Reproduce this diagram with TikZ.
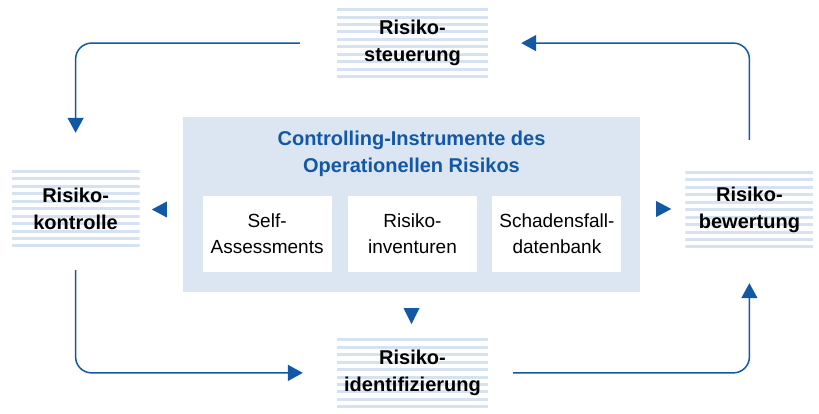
\documentclass[tikz,border=0pt]{standalone}
\usepackage{fontspec}
\setmainfont{Liberation Sans}
\usetikzlibrary{positioning, arrows.meta, calc}
\definecolor{flowblue}{RGB}{18,88,164}
\definecolor{stripeblue}{RGB}{214,225,242}
\definecolor{panelblue}{RGB}{220,230,243}
\tikzset{
flow/.style={draw=flowblue, line width=1.5pt, rounded corners=16pt, -{Triangle[width=16pt,length=15pt]}}, % the four round arrows
stripebox/.style={fill=white, inner sep=0pt, align=center, minimum width=#1, font=\fontsize{20}{27}\selectfont\bfseries,
  path picture={\foreach \k in {0,...,10}
    \fill[stripeblue] ([yshift=-\k*7.44pt]path picture bounding box.north west) rectangle ([yshift=-\k*7.44pt-3pt]path picture bounding box.north east);}}, % light stripes behind the text
panel/.style={fill=panelblue, minimum width=457pt, minimum height=175pt}, % the big box in the middle
headtext/.style={align=center, text=flowblue, font=\fontsize{20}{27}\selectfont\bfseries},
toolbox/.style={fill=white, align=center, minimum width=129pt, minimum height=76pt, inner sep=0pt, font=\fontsize{19}{26}\selectfont},
tipfill/.style={fill=flowblue},
}

\begin{document}
\begin{tikzpicture}[x=1pt, y=1pt]
\useasboundingbox (0,0) rectangle (819,414);

\node[panel] (ci) at (411.5,209.5) {};
\node[headtext] (head) at ($(ci.north)+(0,-37.5)$) {Controlling-Instrumente des\\Operationellen Risikos};
\node[toolbox] (inv) at ($(ci.center)+(1,-29.5)$) {Risiko-\\inventuren};
\node[toolbox, left=16pt of inv] (self) {Self-\\Assessments};
\node[toolbox, right=15pt of inv] (schaden) {Schadensfall-\\datenbank};

\node[stripebox=151pt, minimum height=70pt, above=38.5pt of ci, xshift=1pt] (steuer) {Risiko-\\steuerung};
\node[stripebox=128pt, minimum height=78pt, left=43pt of ci, yshift=-4.5pt] (kontr) {Risiko-\\kontrolle};
\node[stripebox=151pt, minimum height=69pt, below=46pt of ci, xshift=1pt] (ident) {Risiko-\\identifizierung};
\node[stripebox=128pt, minimum height=77pt, right=45pt of ci, yshift=-5pt] (bewert) {Risiko-\\bewertung};

% cycle round the panel
\draw[flow] ([xshift=-37pt]steuer.west) -| ([yshift=37pt]kontr.north);
\draw[flow] ([yshift=-22pt]kontr.south) |- ([xshift=-34pt]ident.west);
\draw[flow] ([xshift=25pt]ident.east) -| ([yshift=-35pt]bewert.south);
\draw[flow] ([yshift=31pt]bewert.north) |- ([xshift=33pt]steuer.east);

% small triangles out of the panel
\fill[tipfill] ($(ci.west)+(-16,-5)$) ++(0,8) -- ++(0,-16) -- ++(-15,8) -- cycle;
\fill[tipfill] ($(ci.east)+(16,-4.5)$) ++(0,8) -- ++(0,-16) -- ++(15,8) -- cycle;
\fill[tipfill] ($(ci.south)+(0,-16)$) ++(-8,0) -- ++(16,0) -- ++(-8,-16) -- cycle;
\end{tikzpicture}
\end{document}
